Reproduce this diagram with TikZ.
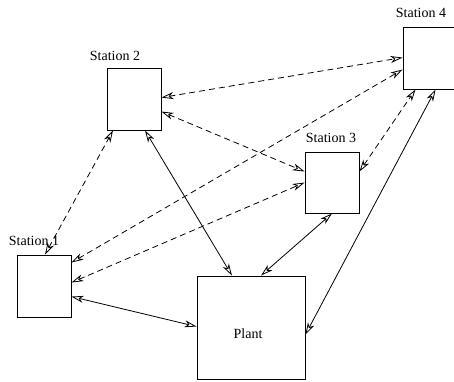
\documentclass[tikz,border=0pt]{standalone}
\usepackage{fontspec}
\setmainfont{Liberation Serif}
\usetikzlibrary{arrows.meta,calc}
\begin{document}
\begin{tikzpicture}[x=1pt,y=-1pt,
  box/.style={draw,line width=0.9pt,inner sep=0pt,minimum width=54pt,minimum height=62pt},
  lbl/.style={font=\fontsize{14pt}{16pt}\selectfont,anchor=base,inner sep=0pt},
  link/.style={line width=0.8pt,{Stealth[open,length=12pt,width=7pt,inset=3.5pt]}-{Stealth[open,length=12pt,width=7pt,inset=3.5pt]}},
  dlink/.style={link,dash pattern=on 6pt off 4pt}]
\useasboundingbox (0,0) rectangle (454,381);
\begin{scope}
\clip (0,0) rectangle (454,381);
\node[box] (s1) at (44,286) {};
\node[box] (s2) at (134,99) {};
\node[box,minimum height=61pt] (s3) at (332,182.5) {};
\node[box] (s4) at (430,58) {};
\node[box,minimum width=108pt,minimum height=103pt] (pl) at (251,327.5) {};
\end{scope}
\node[lbl] (l1) at (34,245) {Station 1};
\node[lbl] (l2) at (115,60) {Station 2};
\node[lbl] (l3) at (331,142) {Station 3};
\node[lbl] (l4) at (421,17) {Station 4};
\node[lbl] (lp) at (248,338) {Plant};
% dashed links
\draw[dlink] ($(s1.north)+(1,0)$) -- ($(s2.south)+(-21,0)$);
\draw[dlink] ($(s2.north east)+(0,30)$) -- ($(s4.north west)+(0,31)$);
\draw[dlink] ($(s2.north east)+(0,44)$) -- ($(s3.north west)+(0,20)$);
\draw[dlink] ($(s1.north east)+(0,8)$) -- ($(s4.north west)+(0,43)$);
\draw[dlink] ($(s1.north east)+(0,28)$) -- ($(s3.north west)+(0,31)$);
\draw[dlink] ($(s3.north east)+(0,20)$) -- ($(s4.south west)+(13,0)$);
% solid links
\draw[link] ($(s2.south)+(11,0)$) -- ($(pl.north)+(-19,0)$);
\draw[link] ($(s1.north east)+(0,42)$) -- ($(pl.north west)+(0,51)$);
\draw[link] ($(s3.south)+(0,0)$) -- ($(pl.north)+(10,0)$);
\draw[link] ($(s4.south west)+(33,0)$) -- ($(pl.north east)+(0,59)$);
\end{tikzpicture}
\end{document}
